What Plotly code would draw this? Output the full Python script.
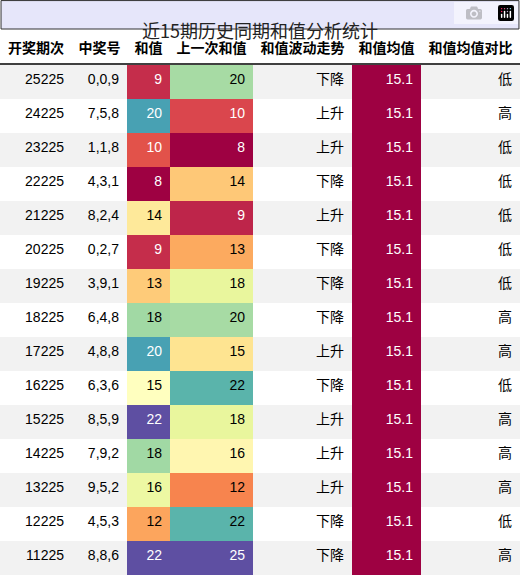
import plotly.graph_objects as go
from plotly.colors import sample_colorscale, unlabel_rgb

periods = ["25225","24225","23225","22225","21225","20225","19225","18225","17225","16225","15225","14225","13225","12225","11225"]
numbers = ["0,0,9","7,5,8","1,1,8","4,3,1","8,2,4","0,2,7","3,9,1","6,4,8","4,8,8","6,3,6","8,5,9","7,9,2","9,5,2","4,5,3","8,8,6"]
sums = [9,20,10,8,14,9,13,18,20,15,22,18,16,12,22]
prev_sums = [20,10,8,14,9,13,18,20,15,22,18,16,12,22,25]
trend = ["下降","上升","上升","下降","上升","下降","下降","下降","上升","下降","上升","上升","上升","下降","下降"]
means = [15.1]*15
compare = ["低","高","低","低","低","低","低","高","高","低","高","高","高","低","高"]
headers = ["开奖期次","中奖号","和值","上一次和值","和值波动走势","和值均值","和值均值对比"]

def col_colors(vals):
    lo, hi = min(vals), max(vals)
    ts = [0.0 if hi == lo else (v-lo)/(hi-lo) for v in vals]
    cs = sample_colorscale("Spectral", ts)
    fcs = []
    for c in cs:
        r, g, b = unlabel_rgb(c)
        lum = 0.299*r + 0.587*g + 0.114*b
        fcs.append("white" if lum < 150 else "black")
    return cs, fcs

stripe = ["#f2f2f2" if i % 2 == 0 else "white" for i in range(15)]
sc, sf = col_colors(sums)
pc, pf = col_colors(prev_sums)
mc, mf = col_colors(means)

fills = [stripe, stripe, sc, pc, stripe, mc, stripe]
fonts = [["black"]*15, ["black"]*15, sf, pf, ["black"]*15, mf, ["black"]*15]

H = 576
title_h = 29
header_h = 35
row_h = 34

fig = go.Figure(go.Table(
    columnwidth=[72, 55, 43, 83, 99, 69, 99],
    header=dict(values=[f"<b>{h}</b>" for h in headers], align="center",
                fill_color="white", line=dict(width=0),
                font=dict(family="Noto Sans CJK SC, Liberation Sans", size=14, color="black"),
                height=header_h),
    cells=dict(values=[periods, numbers, sums, prev_sums, trend, [f"{m:.1f}" for m in means], compare],
               align="right", fill_color=fills, line=dict(width=0),
               font=dict(family="Liberation Sans, Noto Sans CJK SC", size=14, color=fonts),
               height=row_h),
    domain=dict(x=[0, 1], y=[0, 1 - title_h/H]),
))
fig.add_shape(type="rect", xref="paper", yref="paper", x0=0.002, x1=0.998,
              y0=1 - title_h/H, y1=0.999, fillcolor="#e6e6fa", line=dict(color="#333333", width=1))
fig.add_annotation(text="近15期历史同期和值分析统计", xref="paper", yref="paper",
                   x=0.5, y=1 - title_h/(2*H), showarrow=False,
                   font=dict(family="Noto Sans CJK SC, Liberation Sans", size=18, color="#222222"))
fig.add_shape(type="line", xref="paper", yref="paper", x0=0, x1=1,
              y0=1 - (title_h+header_h)/H, y1=1 - (title_h+header_h)/H,
              line=dict(color="black", width=1.5))
fig.update_layout(width=520, height=576, margin=dict(l=0, r=0, t=0, b=0),
                  paper_bgcolor="white")
fig.write_html("out.html", post_script="document.body.style.margin='0';document.body.style.overflow='hidden';")
